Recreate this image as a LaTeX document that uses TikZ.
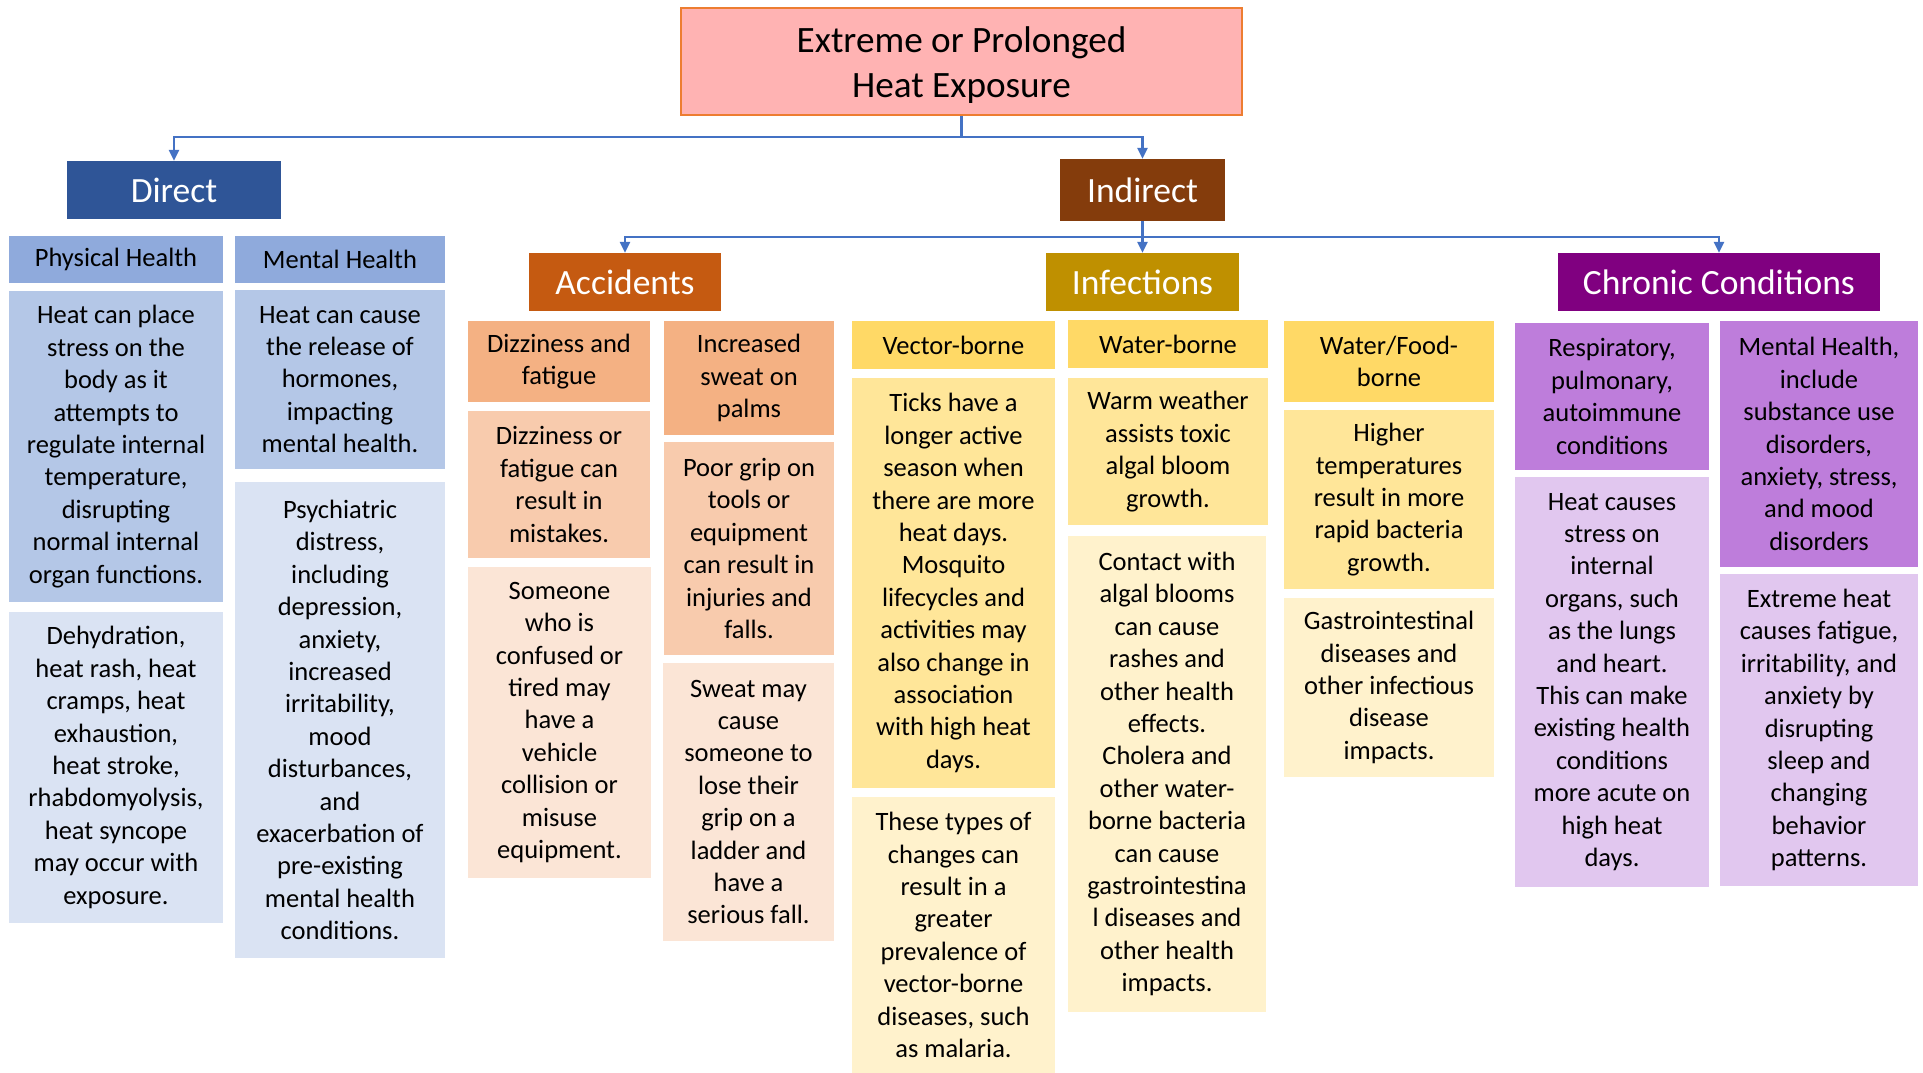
\documentclass[tikz,border=0pt]{standalone}
\usepackage{fontspec}
\setmainfont{Carlito}
\usetikzlibrary{arrows.meta}

\definecolor{linkblue}{HTML}{4472C4}
\definecolor{rootfill}{HTML}{FFB3B3}
\definecolor{rootline}{HTML}{ED7D31}
\definecolor{directc}{HTML}{2F5597}
\definecolor{indirectc}{HTML}{843C0C}
\definecolor{accc}{HTML}{C55A11}
\definecolor{infc}{HTML}{BF9000}
\definecolor{chrc}{HTML}{800080}
\definecolor{blueA}{HTML}{8FAADC}
\definecolor{blueB}{HTML}{B4C7E7}
\definecolor{blueC}{HTML}{DAE3F3}
\definecolor{orA}{HTML}{F4B183}
\definecolor{orB}{HTML}{F8CBAD}
\definecolor{orC}{HTML}{FBE5D6}
\definecolor{yeA}{HTML}{FFD966}
\definecolor{yeB}{HTML}{FFE699}
\definecolor{yeC}{HTML}{FFF2CC}
\definecolor{puA}{HTML}{BE7DDB}
\definecolor{puB}{HTML}{E1C7EF}

\newcommand{\bodysize}{\fontsize{26.5}{32.4}\selectfont}
\newcommand{\titlesize}{\fontsize{35.5}{43}\selectfont}
\newcommand{\rootsize}{\fontsize{37.2}{45.4}\selectfont}

% \drawcell[style]{name}{x1}{y1}{x2}{y2}{fill}{text}
\newcommand{\drawcell}[8][cellbox]{%
  \node[#1, fill=#7, minimum width={(#5-#3)*1pt}, minimum height={(#6-#4)*1pt}]
    (#2) at ({(#3+#5)/2},{(#4+#6)/2}) {#8};}

\tikzset{
  cellbox/.style={anchor=center, inner sep=0pt, align=center, font=\bodysize, text=black},
  titlebox/.style={anchor=center, inner sep=0pt, align=center, font=\titlesize, text=white},
  rootbox/.style={anchor=center, inner sep=0pt, draw=rootline, line width=2.5pt},
  roottext/.style={anchor=center, inner sep=0pt, align=center, font=\rootsize, text=black},
  conn/.style={draw=linkblue, line width=2.5pt, -{Triangle[length=11pt,width=10pt]}},
  plainconn/.style={draw=linkblue, line width=2.5pt},
}

\begin{document}
\begin{tikzpicture}[x=1pt,y=-1pt]
\useasboundingbox (0,0) rectangle (1923,1073);

% root
\drawcell[rootbox]{root}{681}{8}{1242}{115}{rootfill}{}
\node[roottext] (roottxt) at (961.5,65) {Extreme or Prolonged\\Heat Exposure};

% first level
\drawcell[titlebox]{direct}{67}{161}{281}{219}{directc}{Direct}
\drawcell[titlebox]{indirect}{1060}{159}{1225}{221}{indirectc}{Indirect}

% second level
\drawcell[titlebox]{acc}{529}{253}{721}{311}{accc}{Accidents}
\drawcell[titlebox]{inf}{1046}{253}{1239}{311}{infc}{Infections}
\drawcell[titlebox]{chr}{1558}{253}{1880}{311}{chrc}{Chronic Conditions}

% connectors
\coordinate (j1) at (961.5,137);
\coordinate (j2) at (1142.5,237);
\draw[plainconn] (root.south) -- (j1);
\draw[conn] (j1) -| (direct.north);
\draw[conn] (j1) -| (indirect.north);
\draw[plainconn] (indirect.south) -- (j2);
\draw[conn] (j2) -| (acc.north);
\draw[conn] (j2) -- (inf.north);
\draw[conn] (j2) -| (chr.north);

% direct: physical health
\drawcell{phys}{9}{236}{223}{283}{blueA}{Physical Health}
\drawcell{physa}{9}{291}{223}{602}{blueB}{Heat can place\\stress on the\\body as it\\attempts to\\regulate internal\\temperature,\\disrupting\\normal internal\\organ functions.}
\drawcell{physb}{9}{612}{223}{923}{blueC}{Dehydration,\\heat rash, heat\\cramps, heat\\exhaustion,\\heat stroke,\\rhabdomyolysis,\\heat syncope\\may occur with\\exposure.}

% direct: mental health
\drawcell{ment}{235}{236}{445}{283}{blueA}{Mental Health}
\drawcell{menta}{235}{290}{445}{469}{blueB}{Heat can cause\\the release of\\hormones,\\impacting\\mental health.}
\drawcell{mentb}{235}{482}{445}{958}{blueC}{Psychiatric\\distress,\\including\\depression,\\anxiety,\\increased\\irritability,\\mood\\disturbances,\\and\\exacerbation of\\pre-existing\\mental health\\conditions.}

% accidents
\drawcell{dizz}{468}{321}{650}{402}{orA}{Dizziness and\\fatigue}
\drawcell{dizza}{468}{411}{650}{558}{orB}{Dizziness or\\fatigue can\\result in\\mistakes.}
\drawcell{dizzb}{468}{567}{651}{878}{orC}{Someone\\who is\\confused or\\tired may\\have a\\vehicle\\collision or\\misuse\\equipment.}
\drawcell{sweat}{664}{321}{834}{435}{orA}{Increased\\sweat on\\palms}
\drawcell{sweata}{664}{442}{834}{655}{orB}{Poor grip on\\tools or\\equipment\\can result in\\injuries and\\falls.}
\drawcell{sweatb}{663}{663}{834}{941}{orC}{Sweat may\\cause\\someone to\\lose their\\grip on a\\ladder and\\have a\\serious fall.}

% infections
\drawcell{vect}{852}{321}{1055}{369}{yeA}{Vector-borne}
\drawcell{vecta}{852}{378}{1055}{788}{yeB}{Ticks have a\\longer active\\season when\\there are more\\heat days.\\Mosquito\\lifecycles and\\activities may\\also change in\\association\\with high heat\\days.}
\drawcell{vectb}{852}{797}{1055}{1073}{yeC}{These types of\\changes can\\result in a\\greater\\prevalence of\\vector-borne\\diseases, such\\as malaria.}
\drawcell{wat}{1068}{320}{1268}{368}{yeA}{Water-borne}
\drawcell{wata}{1068}{378}{1268}{525}{yeB}{Warm weather\\assists toxic\\algal bloom\\growth.}
\drawcell{watb}{1068}{536}{1266}{1012}{yeC}{Contact with\\algal blooms\\can cause\\rashes and\\other health\\effects.\\Cholera and\\other water-\\borne bacteria\\can cause\\gastrointestina\\l diseases and\\other health\\impacts.}
\drawcell{food}{1284}{321}{1494}{402}{yeA}{Water/Food-\\borne}
\drawcell{fooda}{1284}{410}{1494}{589}{yeB}{Higher\\temperatures\\result in more\\rapid bacteria\\growth.}
\drawcell{foodb}{1284}{598}{1494}{777}{yeC}{Gastrointestinal\\diseases and\\other infectious\\disease\\impacts.}

% chronic conditions
\drawcell{resp}{1515}{323}{1709}{470}{puA}{Respiratory,\\pulmonary,\\autoimmune\\conditions}
\drawcell{respa}{1515}{477}{1709}{887}{puB}{Heat causes\\stress on\\internal\\organs, such\\as the lungs\\and heart.\\This can make\\existing health\\conditions\\more acute on\\high heat\\days.}
\drawcell{mh}{1720}{321}{1918}{567}{puA}{Mental Health,\\include\\substance use\\disorders,\\anxiety, stress,\\and mood\\disorders}
\drawcell{mha}{1720}{574}{1918}{886}{puB}{Extreme heat\\causes fatigue,\\irritability, and\\anxiety by\\disrupting\\sleep and\\changing\\behavior\\patterns.}

\end{tikzpicture}
\end{document}
